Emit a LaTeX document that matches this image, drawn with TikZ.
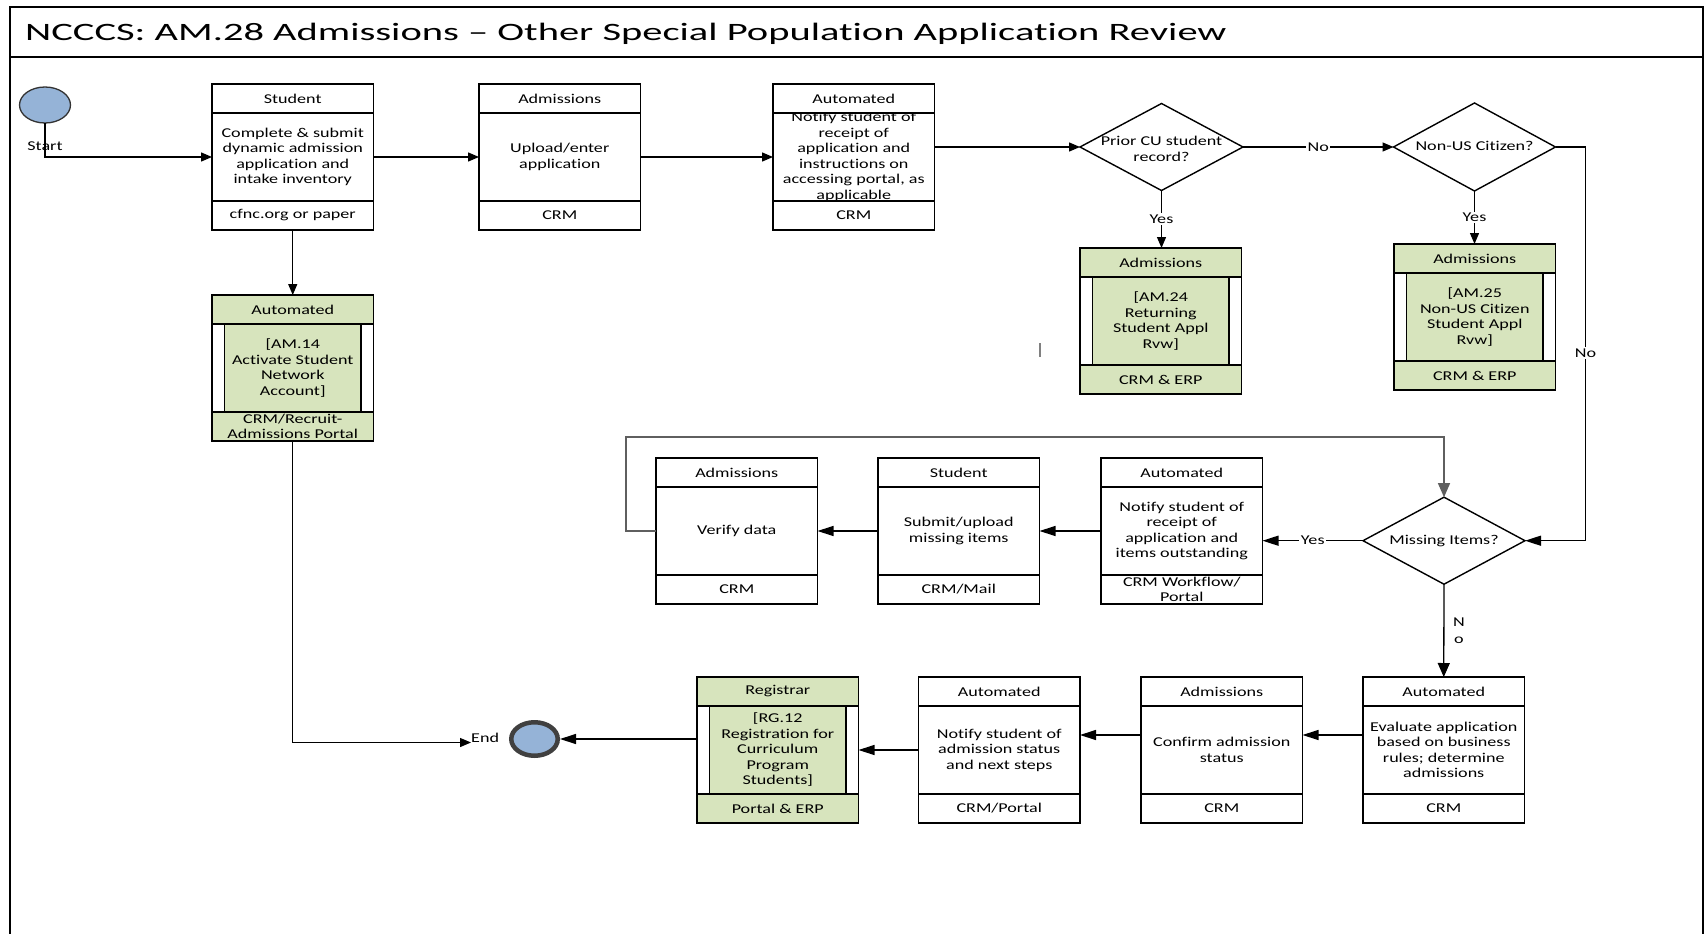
\documentclass[tikz,border=0pt]{standalone}
\usepackage{fontspec}
\usetikzlibrary{arrows.meta,shapes.geometric}
\newfontfamily\bodyfont{Carlito}[FakeStretch=1.34, Ligatures={NoCommon}]
\newfontfamily\titlefont{Carlito}[FakeStretch=1.62, Ligatures={NoCommon}]
\definecolor{subgreen}{RGB}{215,228,189}
\definecolor{termblue}{RGB}{149,179,215}
\definecolor{ringgray}{RGB}{64,64,64}
\definecolor{loopgray}{RGB}{95,95,95}

\tikzset{
  pline/.style={line width=1.4pt, black},
  pbox/.style={draw, line width=1.4pt, fill=white, minimum width=161.5pt,
    minimum height=146pt, inner sep=0pt, outer sep=0pt},
  decision/.style={diamond, draw, line width=1.4pt, fill=white, inner sep=0pt,
    outer sep=0pt, minimum width=163pt, minimum height=87pt},
  txt/.style={font=\bodyfont\fontsize{13.5}{15.5}\selectfont, align=center, inner sep=0pt},
  txttight/.style={font=\bodyfont\fontsize{13.5}{14.7}\selectfont, align=center, inner sep=0pt},
  lbl/.style={txt, fill=white, inner sep=1.5pt},
  conn/.style={line width=1.3pt, black},
  loopline/.style={line width=1.1pt, loopgray},
  arrs/.style={-{Triangle[length=11pt,width=9pt]}},
  arrl/.style={-{Triangle[length=16pt,width=10pt]}},
  arrv/.style={-{Triangle[length=14pt,width=12pt]}},
}

% process box: name, centre, header, body, footer
\newcommand\procbox[5]{%
  \node[pbox] (#1) at (#2) {};
  \draw[pline] ([yshift=-29pt]#1.north west) -- ([yshift=-29pt]#1.north east);
  \draw[pline] ([yshift=29pt]#1.south west) -- ([yshift=29pt]#1.south east);
  \node[txt] (#1-h) at ([yshift=-14.5pt]#1.north) {#3};
  \node[txt] (#1-b) at (#1.center) {#4};
  \node[txttight] (#1-f) at ([yshift=14.5pt]#1.south) {#5};
}

% predefined sub-process box (green)
\newcommand\subbox[5]{%
  \node[pbox] (#1) at (#2) {};
  \draw[pline, fill=subgreen] (#1.north west) rectangle ([yshift=-29pt]#1.north east);
  \draw[pline, fill=subgreen] ([yshift=29pt]#1.south west) rectangle (#1.south east);
  \draw[pline, fill=subgreen] ([xshift=12.5pt,yshift=-29pt]#1.north west)
    rectangle ([xshift=-12.5pt,yshift=29pt]#1.south east);
  \draw[pline] (#1.north west) rectangle (#1.south east);
  \node[txt] (#1-h) at ([yshift=-14.5pt]#1.north) {#3};
  \node[txt] (#1-b) at (#1.center) {#4};
  \node[txttight] (#1-f) at ([yshift=14.5pt]#1.south) {#5};
}

\begin{document}
\begin{tikzpicture}[x=1pt,y=-1pt]
\useasboundingbox (0,0) rectangle (1706,934);
\fill[white] (0,0) rectangle (1706,934);

% frame and title bar
\draw[line width=1.8pt] (10,934) -- (10,7) -- (1703,7) -- (1703,934);
\draw[line width=1.5pt] (10,57) -- (1703,57);
\node[anchor=base west, inner sep=0pt, font=\titlefont\fontsize{25}{29}\selectfont] (title)
  at (25,41) {NCCCS: AM.28 Admissions – Other Special Population Application Review};

% start / end
\node[ellipse, draw=black!80, line width=1.3pt, fill=termblue, minimum width=51pt,
  minimum height=36pt, inner sep=0pt, outer sep=0pt] (startc) at (45,105) {};
\node[ellipse, draw=ringgray, line width=4.5pt, fill=termblue, minimum width=46.5pt,
  minimum height=33.5pt, inner sep=0pt, outer sep=2.25pt] (endc) at (534.5,739) {};

% top row
\procbox{student}{292.75,157}{Student}{Complete \& submit\\dynamic admission\\application and\\intake inventory}{cfnc.org or paper}
\procbox{adm}{559.75,157}{Admissions}{Upload/enter\\application}{CRM}
\procbox{notify1}{853.75,157}{Automated}{}{CRM}
\begin{scope}
  \clip ([yshift=-29pt]notify1.north west) rectangle ([yshift=29pt]notify1.south east);
  \node[txt] (notify1-t) at (notify1.center) {Notify student of\\receipt of\\application and\\instructions on\\accessing portal, as\\applicable};
\end{scope}

\node[decision] (prior) at (1161.5,147) {};
\node[txt] (prior-t) at (1161.5,149) {Prior CU student\\record?};
\node[decision, minimum width=162pt, minimum height=88pt] (nonus) at (1474.5,147) {};
\node[txt] (nonus-t) at (1474.5,146) {Non-US Citizen?};

\subbox{am14}{292.75,368}{Automated}{[AM.14\\Activate Student\\Network\\Account]}{CRM/Recruit-\\Admissions Portal}
\subbox{am24}{1160.75,321}{Admissions}{[AM.24\\Returning\\Student Appl\\Rvw]}{CRM \& ERP}
\subbox{am25}{1474.75,317}{Admissions}{[AM.25\\Non-US Citizen\\Student Appl\\Rvw]}{CRM \& ERP}

% middle row
\node[decision, minimum width=162pt] (miss) at (1444,540.7) {};
\node[txt] (miss-t) at (miss.center) {Missing Items?};
\procbox{verify}{736.75,531}{Admissions}{Verify data}{CRM}
\procbox{submit}{958.75,531}{Student}{Submit/upload\\missing items}{CRM/Mail}
\procbox{notify2}{1181.75,531}{Automated}{Notify student of\\receipt of\\application and\\items outstanding}{CRM Workflow/\\Portal}

% bottom row
\procbox{evaluate}{1443.75,750}{Automated}{Evaluate application\\based on business\\rules; determine\\admissions}{CRM}
\procbox{confirm}{1221.75,750}{Admissions}{Confirm admission\\status}{CRM}
\procbox{notify3}{999.25,750}{Automated}{Notify student of\\admission status\\and next steps}{CRM/Portal}
\subbox{registrar}{777.75,750}{Registrar}{[RG.12\\Registration for\\Curriculum\\Program\\Students]}{Portal \& ERP}

% labels
\node[txt] (startlbl) at (45,145.7) {Start};
\node[txt, anchor=base west] (endlbl) at (471,742.5) {End};
\coordinate (loopc) at (626,437);
\coordinate (nocorner) at (1585.5,147);

% connectors
\draw[conn, arrs] (startc.south) |- (student.west);
\draw[conn, arrs] (student.east) -- (adm.west);
\draw[conn, arrs] (adm.east) -- (notify1.west);
\draw[conn, arrs] (prior.west -| notify1.east) -- (prior.west);
\draw[conn, arrs] (prior.east) -- node[lbl] (no1) {No} (nonus.west);
\draw[conn, arrs] (prior.south) -- node[lbl] (yes1) {Yes} (prior.south |- am24.north);
\draw[conn, arrs] (nonus.south) -- node[lbl] (yes2) {Yes} (nonus.south |- am25.north);
\draw[conn, arrl] (nonus.east) -- (nocorner) |- (miss.east);
\node[lbl] (no2) at (1585.5,353) {No};
\draw[conn, arrs] (student.south) -- (am14.north);
\draw[conn, arrs] (am14.south) |- (endlbl.base west);
\draw[conn, arrl] (miss.west) -- node[lbl] (yes3) {Yes} (miss.west -| notify2.east);
\draw[conn, arrl] (notify2.west) -- (submit.east);
\draw[conn, arrl] (submit.west) -- (verify.east);
\draw[loopline, arrv] (verify.west) -- (verify.west -| loopc) -- (loopc) -- (loopc -| miss.north) -- (miss.north);
\draw[conn, arrv] (miss.south) -- (evaluate.north);
\node[txt, font=\bodyfont\fontsize{13.5}{17}\selectfont] (no3) at (1459,631) {N\\o};
\draw[conn, arrl] ([yshift=15pt]evaluate.west) -- ([yshift=15pt]confirm.east);
\draw[conn, arrl] ([yshift=15pt]confirm.west) -- ([yshift=15pt]notify3.east);
\draw[conn, arrl] (notify3.west) -- (registrar.east);
\draw[conn, arrl] (endc.east -| registrar.west) -- (endc.east);

% stray cursor mark
\draw[gray, line width=1.2pt] (1040,343) -- (1040,357);
\end{tikzpicture}
\end{document}
